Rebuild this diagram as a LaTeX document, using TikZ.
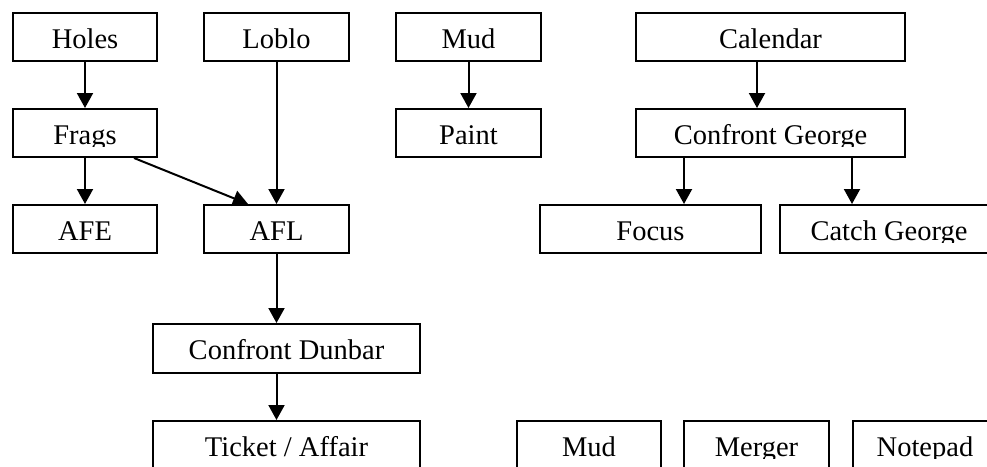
\documentclass[tikz,border=0pt]{standalone}
\usepackage{fontspec}
\setmainfont{Liberation Serif}
\usetikzlibrary{arrows.meta}
\tikzset{
  bx/.style={draw, line width=2pt, inner sep=0pt, anchor=north west},
  lbl/.style={anchor=base, inner sep=0pt, font=\fontsize{28.5pt}{30pt}\selectfont},
  arr/.style={line width=2pt, -{Triangle[width=16pt,length=15pt]}}
}
\newcommand\mkbox[6]{%
  \node[bx, minimum width=#4pt, minimum height=#5pt] (#1) at (#2,#3) {};
  \begin{scope}
    \clip ([yshift=-38pt]#1.north west) rectangle (#1.north east);
    \node[lbl] (#1-t) at ([yshift=-36pt]#1.north) {#6};
  \end{scope}}
\begin{document}
\begin{tikzpicture}[x=1pt,y=-1pt]
\clip (0,0) rectangle (987,466);
\fill[white] (0,0) rectangle (987,466);
\mkbox{holes}{12}{12}{144}{48}{Holes}
\mkbox{loblo}{203}{12}{145}{48}{Loblo}
\mkbox{mud}{395}{12}{145}{48}{Mud}
\mkbox{cal}{635}{12}{269}{48}{Calendar}
\mkbox{frags}{12}{108}{144}{48}{Frags}
\mkbox{paint}{395}{108}{145}{48}{Paint}
\mkbox{cg}{635}{108}{269}{48}{Confront George}
\mkbox{afe}{12}{204}{144}{48}{AFE}
\mkbox{afl}{203}{204}{145}{48}{AFL}
\mkbox{focus}{539}{204}{221}{48}{Focus}
\mkbox{catch}{779}{204}{218}{48}{Catch George}
\mkbox{cd}{152}{323}{267}{49}{Confront Dunbar}
\mkbox{ticket}{152}{420}{267}{48}{Ticket / Affair}
\mkbox{mudb}{516}{420}{144}{48}{Mud}
\mkbox{merger}{683}{420}{145}{48}{Merger}
\mkbox{notepad}{852}{420}{144}{48}{Notepad}
% connectors
\draw[arr] (holes.south) -- (frags.north);
\draw[arr] (frags.south) -- (afe.north);
\draw[arr] (loblo.south) -- (loblo.south |- afl.north);
\draw[arr] ([xshift=49pt]frags.south) -- ([xshift=45pt]afl.north west);
\draw[arr] (mud.south) -- (paint.north);
\draw[arr] ([xshift=-13.5pt]cal.south) -- ([xshift=-13.5pt]cal.south |- cg.north);
\draw[arr] ([xshift=49pt]cg.south west) -- ([xshift=49pt]cg.south west |- focus.north);
\draw[arr] ([xshift=217pt]cg.south west) -- ([xshift=217pt]cg.south west |- catch.north);
\draw[arr] (afl.south) -- (afl.south |- cd.north);
\draw[arr] (afl.south |- cd.south) -- (afl.south |- ticket.north);
\end{tikzpicture}
\end{document}
